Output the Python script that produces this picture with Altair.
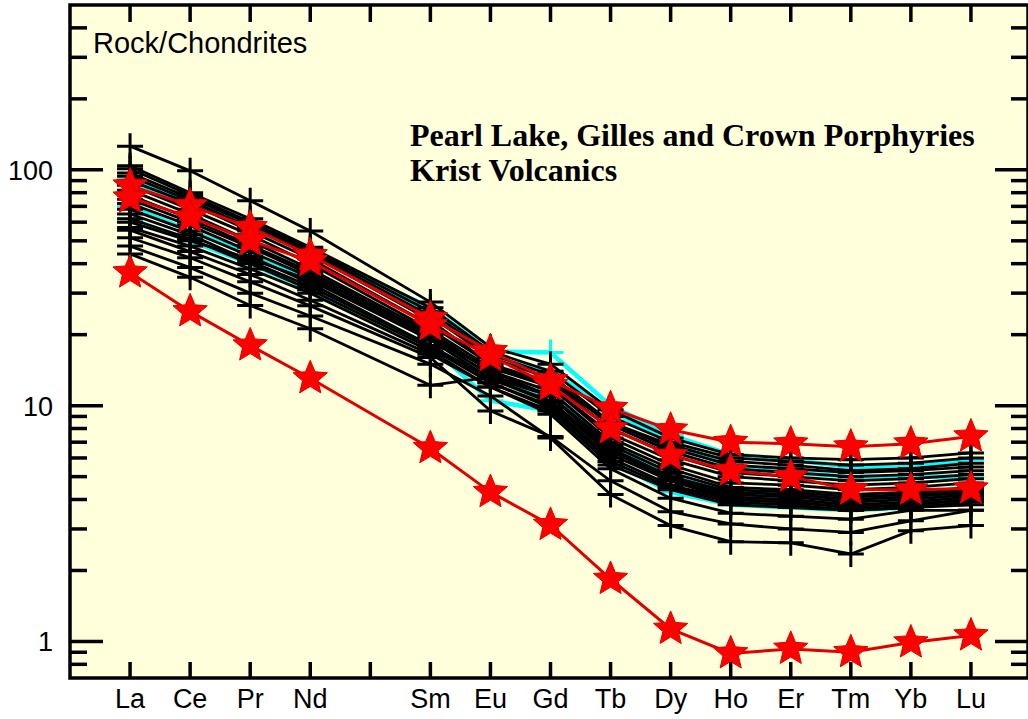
import altair as alt
import pandas as pd

# Rare earth order; Pm is not analysed but keeps its slot on the x axis
REE_ORDER = ["La", "Ce", "Pr", "Nd", "Pm", "Sm", "Eu", "Gd", "Tb", "Dy", "Ho", "Er", "Tm", "Yb", "Lu"]
ELEMENTS = [e for e in REE_ORDER if e != "Pm"]

# Chondrite-normalised values, one list per sample, in ELEMENTS order
porphyry_samples = [
    [126, 99, 74, 55, 27.5, 17.7, 15.0, 9.6, 7.3, 6.2, 6.0, 5.9, 6.0, 6.3],
    [104, 80, 62, 47, 26, 17, 14, 9.0, 7.0, 6.0, 5.8, 5.6, 5.7, 6.0],
    [101, 78, 60, 46, 25, 16.5, 13.5, 8.5, 6.6, 5.6, 5.4, 5.2, 5.3, 5.5],
    [97, 76, 59, 45, 24, 16, 13, 8.3, 6.4, 5.4, 5.2, 5.0, 5.1, 5.3],
    [94, 74, 57, 44, 23, 15, 12.5, 8.0, 6.2, 5.2, 5.0, 4.8, 4.9, 5.1],
    [90, 72, 55, 42, 22, 15, 12, 7.6, 5.9, 5.0, 4.8, 4.6, 4.7, 4.9],
    [86, 68, 53, 40, 21, 14.5, 12, 7.3, 5.6, 4.7, 4.6, 4.4, 4.5, 4.7],
    [82, 65, 50, 38, 20.5, 14, 11.5, 7.0, 5.4, 4.5, 4.4, 4.2, 4.3, 4.5],
    [78, 62, 48, 37, 20, 14, 11, 6.8, 5.2, 4.4, 4.3, 4.1, 4.2, 4.4],
    [75, 60, 47, 36, 19.5, 13.5, 11, 6.6, 5.0, 4.3, 4.2, 4.0, 4.1, 4.3],
    [72, 58, 45, 35, 19, 13, 10.5, 6.4, 4.9, 4.2, 4.1, 3.9, 4.0, 4.2],
    [68, 55, 43, 33, 18, 13, 10.3, 6.2, 4.8, 4.1, 4.0, 3.8, 3.9, 4.1],
    [65, 53, 41, 32, 18, 12.5, 10, 6.0, 4.6, 4.0, 3.9, 3.7, 3.8, 4.0],
    [62, 51, 40, 31, 17.5, 12.5, 9.8, 5.8, 4.5, 3.9, 3.8, 3.6, 3.7, 3.9],
    [57, 47.5, 38, 30, 17, 12, 9.5, 5.6, 4.4, 3.8, 3.7, 3.6, 3.7, 3.8],
    [55.5, 45, 36, 28, 16.5, 12, 9.2, 5.4, 4.05, 3.5, 3.4, 3.3, 3.6, 3.6],
    [51.5, 42.4, 33.5, 26.5, 16, 9.5, 7.4, 4.8, 3.55, 3.15, 3.0, 2.9, 3.25, 3.6],
    [47.5, 38.5, 30, 24, 15, 11, 7.3, 4.2, 3.1, 2.65, 2.62, 2.35, 2.95, 3.1],
    [44, 35, 26.6, 21.2, 12.2, 13.2, 11, 6.5, 4.8, 4.0, 3.9, 3.7, 3.8, 4.0],
    [60, 50, 42, 34, 19, 14.5, 12.5, 8.5, 6.8, 5.8, 5.6, 5.3, 5.4, 5.7],
]

volcanic_samples = [
    [91, 75, 60, 45, 26, 17, 16.8, 10, 7.5, 6.2, 5.9, 5.5, 5.6, 5.9],
    [62, 50, 40, 31, 18, 10.5, 9.5, 5.8, 4.3, 3.8, 3.7, 3.6, 3.7, 4.0],
    [88, 72, 57, 44, 25, 16, 14, 9.5, 7.0, 5.5, 5.2, 5.0, 5.0, 5.0],
    [70, 55, 44, 35, 20, 13, 11, 7.0, 5.0, 4.3, 4.2, 4.0, 4.1, 4.3],
]

highlight_samples = [
    [85.7, 70.5, 57, 43.4, 23.5, 17, 12.8, 9.75, 7.9, 7.0, 6.9, 6.7, 6.9, 7.4],
    [76.2, 63, 50.1, 41, 21.9, 16.2, 12.2, 8.0, 6.15, 5.3, 5.0, 4.4, 4.4, 4.45],
    [36.7, 25.1, 18.0, 13.06, 6.6, 4.3, 3.12, 1.84, 1.13, 0.89, 0.93, 0.90, 0.99, 1.06],
]

# Axis decorations
Y_MAJOR = [1, 10, 100]
Y_MINOR = [0.8, 0.9, 2, 3, 4, 5, 6, 7, 8, 9, 20, 30, 40, 50, 60, 70, 80, 90, 200, 300, 400]


def to_frame(samples, group):
    rows = []
    for s, values in enumerate(samples):
        for el, v in zip(ELEMENTS, values):
            rows.append({"sample": f"{group}-{s + 1}", "element": el,
                         "pos": REE_ORDER.index(el) + 1, "value": v})
    return pd.DataFrame(rows)


W, H = 958, 673
x_scale = alt.Scale(domain=[0, 15.95], nice=False, zero=False)
y_scale = alt.Scale(type="log", domain=[0.7, 500], nice=False)
X = alt.X("pos:Q", scale=x_scale, axis=None)
Y = alt.Y("value:Q", scale=y_scale, axis=None)

PLUS = "M-1,0L1,0M0,-1L0,1"
STAR = ("M0,-1L0.2645,-0.3641L0.9511,-0.309L0.428,0.1391L0.5878,0.809L0,0.45"
        "L-0.5878,0.809L-0.428,0.1391L-0.9511,-0.309L-0.2645,-0.3641Z")

cyan_df = to_frame(volcanic_samples, "krist")
black_df = to_frame(porphyry_samples, "porphyry")
red_df = to_frame(highlight_samples, "highlight")


def sample_layers(df, color, line_width, shape, size, filled, fill=None):
    base = alt.Chart(df).encode(x=X, y=Y, detail="sample:N")
    line = base.mark_line(color=color, strokeWidth=line_width, clip=True)
    if filled:
        pts = base.mark_point(shape=shape, size=size, filled=True, fill=fill,
                              stroke=color, strokeWidth=1, opacity=1)
    else:
        pts = base.mark_point(shape=shape, size=size, filled=False,
                              stroke=color, strokeWidth=3, opacity=1)
    return [line, pts]


layers = []
layers += sample_layers(cyan_df, "#00FFFF", 4.5, PLUS, 676, False)
layers += sample_layers(black_df, "#000000", 2.8, PLUS, 676, False)
layers += sample_layers(red_df, "#E00000", 3, STAR, 1300, True, fill="#FF0000")

# Inward tick marks on all four sides
ymaj = pd.DataFrame({"value": Y_MAJOR, "label": [str(v) for v in Y_MAJOR]})
ymin = pd.DataFrame({"value": Y_MINOR})
xt = pd.DataFrame({"pos": list(range(1, len(REE_ORDER) + 1))})
tick = dict(color="black", strokeWidth=3.5)

layers += [
    alt.Chart(ymaj).mark_rule(**tick).encode(y=Y, x=alt.value(0), x2=alt.value(33)),
    alt.Chart(ymin).mark_rule(**tick).encode(y=Y, x=alt.value(0), x2=alt.value(17)),
    alt.Chart(ymaj).mark_rule(**tick).encode(y=Y, x=alt.value(W), x2=alt.value(W - 33)),
    alt.Chart(ymin).mark_rule(**tick).encode(y=Y, x=alt.value(W), x2=alt.value(W - 17)),
    alt.Chart(xt).mark_rule(**tick).encode(x=X, y=alt.value(0), y2=alt.value(17)),
    alt.Chart(xt).mark_rule(**tick).encode(x=X, y=alt.value(H), y2=alt.value(H - 16)),
]

# Tick labels
el_df = pd.DataFrame({"element": ELEMENTS,
                      "pos": [REE_ORDER.index(e) + 1 for e in ELEMENTS]})
layers.append(
    alt.Chart(el_df).mark_text(font="Liberation Sans", fontSize=27, align="center",
                               baseline="alphabetic", color="black")
    .encode(x=X, y=alt.value(H + 30), text="element:N")
)
layers.append(
    alt.Chart(ymaj).mark_text(font="Liberation Sans", fontSize=27, align="right",
                              baseline="alphabetic", dy=10, color="black")
    .encode(y=Y, x=alt.value(-17), text="label:N")
)

# Annotations
layers.append(
    alt.Chart(pd.DataFrame({"t": ["Rock/Chondrites"]}))
    .mark_text(font="Liberation Sans", fontSize=29, align="left", baseline="alphabetic", color="black")
    .encode(x=alt.value(23), y=alt.value(48), text="t:N")
)
title_df = pd.DataFrame({"t": ["Pearl Lake, Gilles and Crown Porphyries", "Krist Volcanics"]})
layers.append(
    alt.Chart(title_df.iloc[[0]])
    .mark_text(font="Liberation Serif", fontSize=32, fontWeight="bold", align="left",
               baseline="alphabetic", color="black")
    .encode(x=alt.value(340), y=alt.value(141), text="t:N")
)
layers.append(
    alt.Chart(title_df.iloc[[1]])
    .mark_text(font="Liberation Serif", fontSize=32, fontWeight="bold", align="left",
               baseline="alphabetic", color="black")
    .encode(x=alt.value(340), y=alt.value(176), text="t:N")
)

chart = (
    alt.layer(*layers)
    .properties(width=W, height=H,
                padding={"left": 70, "top": 5, "right": 0, "bottom": 41},
                autosize=alt.AutoSizeParams(type="none"),
                background="white")
    .configure_view(fill="#FFFFDC", stroke="black", strokeWidth=3.5)
)

chart.save("out.html", embed_options={"renderer": "svg", "actions": False})
